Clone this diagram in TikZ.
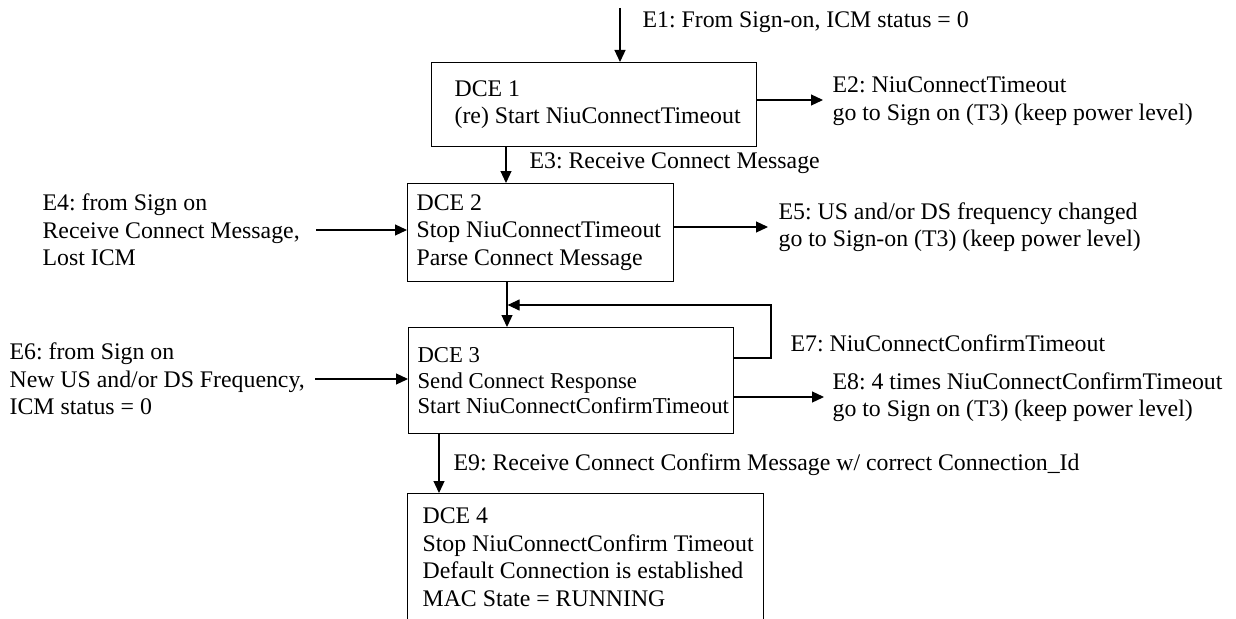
\documentclass[tikz,border=0pt]{standalone}
\usepackage{fontspec}
\setmainfont{Liberation Serif}
\usetikzlibrary{arrows.meta}
\begin{document}
\frenchspacing
\begin{tikzpicture}[x=1pt,y=-1pt,
  line width=1.2pt,
  state/.style={draw, rectangle, anchor=north west, inner sep=0pt},
  txt/.style={anchor=west, align=left, inner sep=0pt, font=\fontsize{23.8}{27.6}\selectfont},
  smalltxt/.style={txt, font=\fontsize{22.7}{25.5}\selectfont},
  flow/.style={-{Triangle[length=12pt,width=11pt]}}]
\useasboundingbox[fill=white] (0,0) rectangle (1236,618);
\clip (0,0) rectangle (1236,618);

% state boxes
\node[state, minimum width=325pt, minimum height=84pt]  (d1) at (431,62) {};
\node[state, minimum width=266pt, minimum height=98pt]  (d2) at (407,183) {};
\node[state, minimum width=325pt, minimum height=106pt] (d3) at (408,327) {};
\node[state, minimum width=356pt, minimum height=127pt] (d4) at (407,493) {};

% state texts
\node[txt] (t1) at ([xshift=23pt]d1.west) {DCE 1\\(re) Start NiuConnectTimeout};
\node[txt] (t2) at ([xshift=9pt]d2.west) {DCE 2\\Stop NiuConnectTimeout\\Parse Connect Message};
\node[smalltxt] (t3) at ([xshift=9pt]d3.west) {DCE 3\\Send Connect Response\\Start NiuConnectConfirmTimeout};
\node[txt] (t4) at ([xshift=15pt]d4.west) {DCE 4\\Stop NiuConnectConfirm Timeout\\Default Connection is established\\MAC State = RUNNING};

% event labels
\node[txt] (e1) at (642,22)  {E1: From Sign-on, ICM status = 0};
\node[txt] (e2) at (832,101) {E2: NiuConnectTimeout\\go to Sign on (T3) (keep power level)};
\node[txt] (e3) at (529,163) {E3: Receive Connect Message};
\node[txt] (e4) at (42,230)  {E4: from Sign on\\Receive Connect Message,\\Lost ICM};
\node[txt] (e5) at (778,227) {E5: US and/or DS frequency changed\\go to Sign-on (T3) (keep power level)};
\node[txt] (e6) at (9,379)   {E6: from Sign on\\New US and/or DS Frequency,\\ICM status = 0};
\node[txt] (e7) at (790,343) {E7: NiuConnectConfirmTimeout};
\node[txt] (e8) at (832,397) {E8: 4 times NiuConnectConfirmTimeout\\go to Sign on (T3) (keep power level)};
\node[txt] (e9) at (453,465) {E9: Receive Connect Confirm Message w/ correct Connection\_Id};

% connector ends and bends
\coordinate (c1) at (620,8);
\coordinate (c2) at (823,100);
\coordinate (c3) at (506,0);
\coordinate (c4) at (316,230);
\coordinate (c5) at (768,227);
\coordinate (c23) at (507,0);
\coordinate (la) at (771,358);
\coordinate (lb) at (771,305);
\coordinate (c6) at (315,379);
\coordinate (c8) at (824,397);
\coordinate (c9) at (439,0);

% transitions
\draw[flow] (c1) -- (c1 |- d1.north);
\draw[flow] (c2 -| d1.east) -- (c2);
\draw[flow] (c3 |- d1.south) -- (c3 |- d2.north);
\draw[flow] (c4) -- (c4 -| d2.west);
\draw[flow] (c5 -| d2.east) -- (c5);
\draw[flow] (c23 |- d2.south) -- (c23 |- d3.north);
\draw[flow] (la -| d3.east) -- (la) -- (lb) -- ([xshift=0.6pt]lb -| c23);
\draw[flow] (c6) -- (c6 -| d3.west);
\draw[flow] (c8 -| d3.east) -- (c8);
\draw[flow] (c9 |- d3.south) -- (c9 |- d4.north);
\end{tikzpicture}
\end{document}
